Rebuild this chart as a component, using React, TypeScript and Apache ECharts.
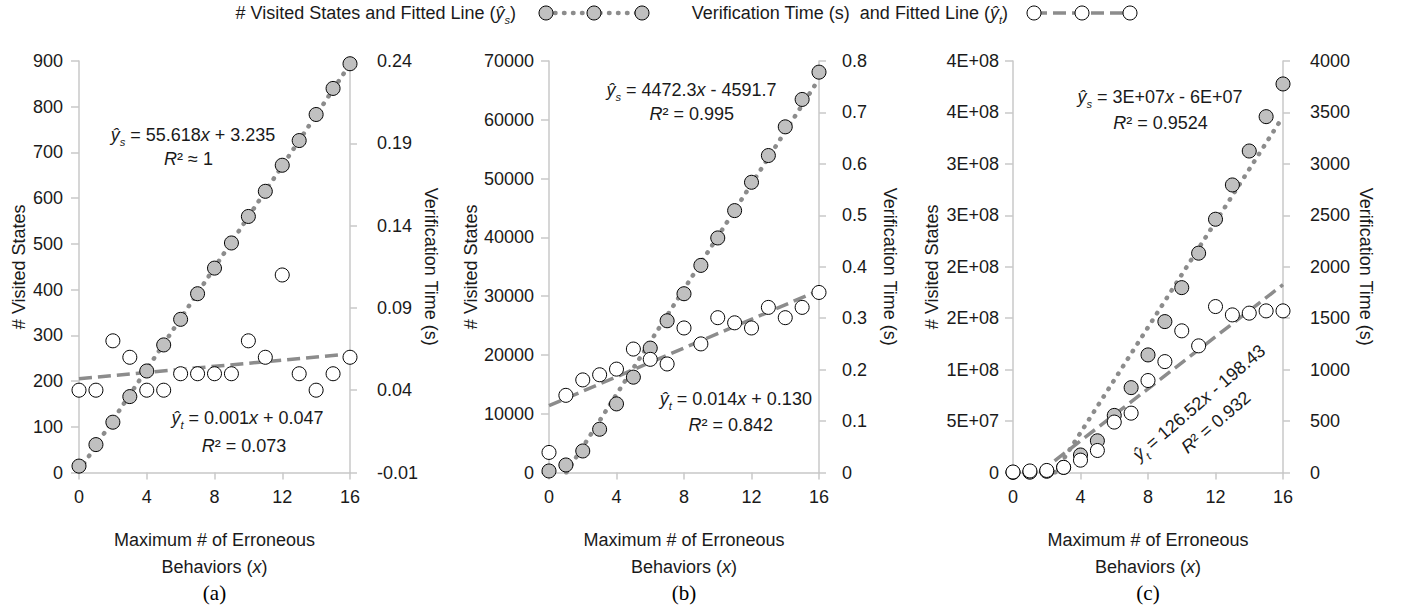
import React, { useEffect, useRef } from 'react';
import * as echarts from 'echarts';

// ---------- data ----------
const behaviors = [0, 1, 2, 3, 4, 5, 6, 7, 8, 9, 10, 11, 12, 13, 14, 15, 16];

const statesA = [14, 61, 110, 166, 222, 279, 335, 391, 447, 502, 560, 615, 672, 726, 783, 840, 894];
const timeA = [0.04, 0.04, 0.07, 0.06, 0.04, 0.04, 0.05, 0.05, 0.05, 0.05, 0.07, 0.06, 0.11, 0.05, 0.04, 0.05, 0.06];

const statesB = [260, 1280, 3660, 7360, 11670, 16220, 21160, 25810, 30410, 35230, 39900, 44550, 49370, 53920, 58800, 63460, 68100];
const timeB = [0.039, 0.15, 0.18, 0.19, 0.201, 0.24, 0.22, 0.211, 0.281, 0.25, 0.301, 0.291, 0.281, 0.321, 0.301, 0.321, 0.35];

const statesC = [100000, 300000, 1200000, 5000000, 17000000, 30800000, 55500000, 82500000, 114300000, 146700000, 179700000, 213200000, 246200000, 279500000, 312500000, 345900000, 377700000];
const timeC = [5, 15, 20, 50, 120, 214, 490, 577, 894, 1078, 1377, 1231, 1613, 1532, 1549, 1571, 1571];

// fitted lines (two end points each: x values, y values)
const fitStatesX = [[0, 16], [1.03, 16], [2.49, 16]];
const fitStatesY = [[3.235, 893.1], [0, 66965], [0, 346000000]];
const fitTimeX = [[0, 16], [0, 16], [1.57, 16]];
const fitTimeY = [[0.047, 0.062], [0.13, 0.354], [0, 1826]];

// axes
const xMin = 0, xMax = 16, xInterval = 4;
const statesMax = [900, 70000, 400000000];
const statesInterval = [100, 10000, 50000000];
const timeOffset = [0.01, 0, 0]; // panel (a) right axis starts at -0.01
const timeMax = [0.25, 0.8, 4000];
const timeInterval = [0.05, 0.1, 500];

// texts
const legendStates = '# Visited States and Fitted Line ({i|ŷ}{sub|s})';
const legendTime = 'Verification Time (s)  and Fitted Line ({i|ŷ}{sub|t})';
const statesAxisName = '# Visited States';
const timeAxisName = 'Verification Time (s)';
const xAxisName = 'Maximum # of Erroneous\nBehaviors ({i|x})';
const panelLabels = ['(a)', '(b)', '(c)'];
const eqStates = ['{i|ŷ}{sub|s} = 55.618{i|x} + 3.235', '{i|ŷ}{sub|s} = 4472.3{i|x} - 4591.7', '{i|ŷ}{sub|s} = 3E+07{i|x} - 6E+07'];
const r2States = ['{i|R}² ≈ 1', '{i|R}² = 0.995', '{i|R}² = 0.9524'];
const eqTimes = ['{i|ŷ}{sub|t} = 0.001{i|x} + 0.047', '{i|ŷ}{sub|t} = 0.014{i|x} + 0.130', '{i|ŷ}{sub|t} = 126.52{i|x} - 198.43'];
const r2Times = ['{i|R}² = 0.073', '{i|R}² = 0.842', '{i|R}² = 0.932'];

// ---------- layout ----------
const GRID_TOP = 61;
const GRID_H = 411.5;
const gridLeft = [79, 549, 1013];
const gridW = [271, 270, 270];
const leftNameGap = [51, 67, 72];
const rightNameGap = [66, 62, 74];
const leftLabelMargin = [16, 15, 14];
const rightLabelMargin = [27, 23, 27];
const eqStatesPos = [[193, 135], [691.5, 90], [1160, 97]];
const r2StatesPos = [[188.5, 158.7], [691.7, 113.5], [1160.5, 122.5]];
const eqTimesPos = [[247.5, 418.3], [735.8, 399], [0, 0]];
const r2TimesPos = [[244, 445.5], [730.8, 424.8], [0, 0]];

const AXIS_COLOR = '#c8c8c8';
const TEXT_COLOR = '#1a1a1a';
const FIT_COLOR = '#8c8c8c';

function pickFont() {
  try {
    const ctx = document.createElement('canvas').getContext('2d')!;
    const s = 'Maximum # of Erroneous 0123456789';
    ctx.font = '40px monospace';
    const m = ctx.measureText(s).width;
    ctx.font = '40px "Liberation Sans Narrow", monospace';
    const n = ctx.measureText(s).width;
    if (Math.abs(m - n) > 1) return { family: '"Liberation Sans Narrow", "Arial Narrow", sans-serif', size: 21 };
  } catch (e) { /* ignore */ }
  return { family: '"Liberation Sans", Arial, sans-serif', size: 18 };
}

function expFmt(v: number) {
  if (v === 0) return '0';
  const [m, e] = v.toExponential(0).split('e');
  return `${m}E${e[0]}${e.slice(1).padStart(2, '0')}`;
}

function buildOption() {
  const font = pickFont();
  const FS = font.size;
  const FF = font.family;
  const richDef = (size: number, lh = 24) => ({
    i: { fontStyle: 'italic', fontSize: size, fontFamily: FF, fill: TEXT_COLOR, color: TEXT_COLOR, lineHeight: lh },
    sub: { fontStyle: 'italic', fontSize: size * 0.62, fontFamily: FF, fill: TEXT_COLOR, color: TEXT_COLOR, lineHeight: lh, verticalAlign: 'bottom' },
  });

  const statesSeries = [statesA, statesB, statesC];
  const timeSeries = [timeA, timeB, timeC];
  const statesFmt = [(v: number) => String(v), (v: number) => String(v), expFmt];
  const timeFmt = [
    (v: number) => (v - 0.01).toFixed(2),
    (v: number) => String(Math.round(v * 10) / 10),
    (v: number) => String(v),
  ];

  const grid: any[] = [];
  const xAxis: any[] = [];
  const yAxis: any[] = [];
  const series: any[] = [];
  const graphic: any[] = [];

  const axisLine = { show: true, onZero: false, lineStyle: { color: AXIS_COLOR, width: 1.5 } };
  const labelBase = { color: TEXT_COLOR, fontSize: FS, fontFamily: FF };

  for (let p = 0; p < 3; p++) {
    grid.push({ left: gridLeft[p], top: GRID_TOP, width: gridW[p], height: GRID_H, outerBoundsMode: 'none', containLabel: false });
    xAxis.push({
      type: 'value', gridIndex: p, min: xMin, max: xMax, interval: xInterval,
      axisLine, splitLine: { show: false },
      axisTick: { show: true, length: 7, lineStyle: { color: AXIS_COLOR, width: 1.5 } },
      axisLabel: { ...labelBase, margin: 15 },
      name: xAxisName, nameLocation: 'middle', nameGap: 54,
      nameTextStyle: { ...labelBase, lineHeight: 26.7, rich: { i: { fontStyle: 'italic', fontSize: FS, fontFamily: FF, color: TEXT_COLOR, lineHeight: 26.7 } } },
    });
    yAxis.push({
      type: 'value', gridIndex: p, position: 'left', min: 0, max: statesMax[p], interval: statesInterval[p],
      axisLine, splitLine: { show: false },
      axisTick: { show: true, length: 8, lineStyle: { color: AXIS_COLOR, width: 1.5 } },
      axisLabel: { ...labelBase, margin: leftLabelMargin[p], formatter: statesFmt[p] },
      name: statesAxisName, nameLocation: 'middle', nameGap: leftNameGap[p], nameRotate: 90,
      nameTextStyle: { ...labelBase },
    });
    yAxis.push({
      type: 'value', gridIndex: p, position: 'right', min: 0, max: timeMax[p], interval: timeInterval[p],
      axisLine, splitLine: { show: false }, alignTicks: false,
      axisTick: { show: true, length: 7, lineStyle: { color: AXIS_COLOR, width: 1.5 } },
      axisLabel: { ...labelBase, margin: rightLabelMargin[p], formatter: timeFmt[p] },
      name: timeAxisName, nameLocation: 'middle', nameGap: rightNameGap[p], nameRotate: -90,
      nameTextStyle: { ...labelBase },
    });

    const off = timeOffset[p];
    series.push({
      type: 'line', xAxisIndex: p, yAxisIndex: 2 * p, z: 2, silent: true, symbol: 'none', showSymbol: false,
      data: fitStatesX[p].map((x, k) => [x, fitStatesY[p][k]]),
      lineStyle: { color: FIT_COLOR, width: 4.5, type: [0.5, 8.5], cap: 'round' },
    });
    series.push({
      type: 'line', xAxisIndex: p, yAxisIndex: 2 * p + 1, z: 2, silent: true, symbol: 'none', showSymbol: false,
      data: fitTimeX[p].map((x, k) => [x, fitTimeY[p][k] + off]),
      lineStyle: { color: FIT_COLOR, width: 3.5, type: [13, 6], cap: 'butt' },
    });
    series.push({
      type: 'scatter', xAxisIndex: p, yAxisIndex: 2 * p, z: 3, symbol: 'circle', symbolSize: 14,
      data: behaviors.map((x, k) => [x, statesSeries[p][k]]),
      itemStyle: { color: '#c0c0c0', borderColor: '#000', borderWidth: 1, opacity: 1 },
    });
    series.push({
      type: 'scatter', xAxisIndex: p, yAxisIndex: 2 * p + 1, z: 4, symbol: 'circle', symbolSize: 14,
      data: behaviors.map((x, k) => [x, timeSeries[p][k] + off]),
      itemStyle: { color: '#ffffff', borderColor: '#000', borderWidth: 1, opacity: 1 },
    });

    // panel label
    graphic.push({
      type: 'text', x: gridLeft[p] + gridW[p] / 2, y: 593, silent: true,
      style: { text: panelLabels[p], fill: '#000', fontSize: 21, fontFamily: '"Liberation Serif", "Times New Roman", serif', align: 'center', verticalAlign: 'middle' },
    });

    const txt = (text: string, x: number, y: number) => ({
      type: 'text', x, y, silent: true,
      style: { text, fill: TEXT_COLOR, fontSize: FS, fontFamily: FF, align: 'center', verticalAlign: 'middle', lineHeight: 24, rich: richDef(FS) },
    });
    graphic.push(txt(eqStates[p], eqStatesPos[p][0], eqStatesPos[p][1]));
    graphic.push(txt(r2States[p], r2StatesPos[p][0], r2StatesPos[p][1]));
    if (p < 2) {
      graphic.push(txt(eqTimes[p], eqTimesPos[p][0], eqTimesPos[p][1]));
      graphic.push(txt(r2Times[p], r2TimesPos[p][0], r2TimesPos[p][1]));
    } else {
      graphic.push({
        type: 'text', x: 1207.5, y: 412.5, rotation: (40.5 * Math.PI) / 180, silent: true,
        style: {
          text: eqTimes[p] + '\n' + r2Times[p], fill: TEXT_COLOR, fontSize: FS, fontFamily: FF,
          align: 'center', verticalAlign: 'middle', lineHeight: 26, rich: richDef(FS, 26),
        },
      });
    }
  }

  // legend
  const LY = 13;
  graphic.push({
    type: 'text', x: 516, y: LY, silent: true,
    style: { text: legendStates, fill: TEXT_COLOR, fontSize: FS, fontFamily: FF, align: 'right', verticalAlign: 'middle', lineHeight: 24, rich: richDef(FS) },
  });
  graphic.push({
    type: 'line', silent: true, shape: { x1: 546, y1: LY, x2: 642, y2: LY },
    style: { stroke: FIT_COLOR, lineWidth: 4.5, lineDash: [0.5, 8.5], lineCap: 'round' },
  });
  [546, 594, 642].forEach((cx) => graphic.push({
    type: 'circle', silent: true, shape: { cx, cy: LY, r: 7 }, style: { fill: '#c0c0c0', stroke: '#000', lineWidth: 1 },
  }));
  graphic.push({
    type: 'text', x: 1008, y: LY, silent: true,
    style: { text: legendTime, fill: TEXT_COLOR, fontSize: FS, fontFamily: FF, align: 'right', verticalAlign: 'middle', lineHeight: 24, rich: richDef(FS) },
  });
  graphic.push({
    type: 'line', silent: true, shape: { x1: 1034, y1: LY, x2: 1130, y2: LY },
    style: { stroke: FIT_COLOR, lineWidth: 3.5, lineDash: [13, 6] },
  });
  [1034, 1082, 1130].forEach((cx) => graphic.push({
    type: 'circle', silent: true, shape: { cx, cy: LY, r: 7 }, style: { fill: '#ffffff', stroke: '#000', lineWidth: 1 },
  }));

  return {
    animation: false,
    backgroundColor: '#ffffff',
    grid, xAxis, yAxis, series, graphic,
    tooltip: { show: false },
  };
}

export default function App() {
  const ref = useRef<HTMLDivElement>(null);
  useEffect(() => {
    const chart = echarts.init(ref.current!, undefined, { renderer: 'svg' });
    chart.setOption(buildOption() as any);
    return () => chart.dispose();
  }, []);
  return (
    <div
      ref={ref}
      style={{ position: 'absolute', left: 0, top: 0, width: 1401, height: 612, background: '#fff' }}
    />
  );
}
